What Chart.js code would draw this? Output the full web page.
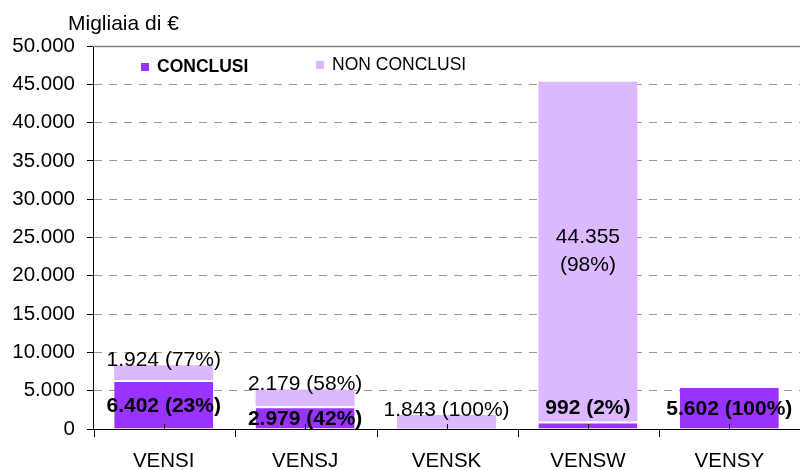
<!DOCTYPE html>
<html>
<head>
<meta charset="utf-8">
<script src="https://cdn.jsdelivr.net/npm/chart.js@4/dist/chart.umd.min.js"></script>
<style>
  html, body { margin: 0; padding: 0; background: #fff; }
  #wrap { width: 800px; height: 470px; }
</style>
</head>
<body>
<div id="wrap"><canvas id="chart" width="800" height="470"></canvas></div>
<script>
// data
const categories = ['VENSI', 'VENSJ', 'VENSK', 'VENSW', 'VENSY'];
const conclusi = [6402, 2979, 0, 992, 5602];
const nonConclusi = [1924, 2179, 1843, 44355, 0];
const conclusiPct = [23, 42, null, 2, 100];
const nonConclusiPct = [77, 58, 100, 98, null];
const yTicks = [0, 5000, 10000, 15000, 20000, 25000, 30000, 35000, 40000, 45000, 50000];

const FONT = '"Liberation Sans", Arial, sans-serif';
const DARK = '#9933ff';
const LIGHT = '#dbb8ff';

function fmt(v) {
    return v.toString().replace(/\B(?=(\d{3})+(?!\d))/g, '.');
}

// extra drawing: title, legend, top border, x-axis tick marks, value labels
const extras = {
    id: 'extras',
    afterDraw: function(chart) {
        const ctx = chart.ctx;
        const area = chart.chartArea;
        const xs = chart.scales.x;

        ctx.save();
        // solid line on top of the plot
        ctx.strokeStyle = '#808080';
        ctx.lineWidth = 1.5;
        ctx.beginPath();
        ctx.moveTo(area.left, area.top + 0.5);
        ctx.lineTo(area.right, area.top + 0.5);
        ctx.stroke();

        // x ticks: boundaries go down, centers go up
        ctx.strokeStyle = '#000';
        ctx.lineWidth = 1;
        const half = (xs.right - xs.left) / categories.length / 2;
        ctx.beginPath();
        categories.forEach(function(c, i) {
            const cx = Math.round(xs.getPixelForTick(i)) + 0.5;
            const bx = Math.round(cx - half) + 0.5;
            ctx.moveTo(bx, area.bottom);
            ctx.lineTo(bx, area.bottom + 8);
            ctx.moveTo(cx, area.bottom);
            ctx.lineTo(cx, area.bottom - 5);
        });
        ctx.stroke();

        // title
        ctx.fillStyle = '#000';
        ctx.font = '21px ' + FONT;
        ctx.textAlign = 'left';
        ctx.textBaseline = 'middle';
        ctx.fillText('Migliaia di €', 68, 24);

        // legend
        const ds = chart.data.datasets;
        ctx.fillStyle = DARK;
        ctx.fillRect(141, 63, 8, 8);
        ctx.fillStyle = '#000';
        ctx.font = 'bold 17.5px ' + FONT;
        ctx.fillText(ds[0].label, 157, 67);
        ctx.fillStyle = LIGHT;
        ctx.fillRect(316, 61, 8, 8);
        ctx.fillStyle = '#000';
        ctx.font = '17.5px ' + FONT;
        ctx.fillText(ds[1].label, 332, 65);

        // value labels
        ctx.textAlign = 'center';
        ctx.textBaseline = 'middle';
        const m0 = chart.getDatasetMeta(0);
        ctx.font = 'bold 21px ' + FONT;
        m0.data.forEach(function(bar, i) {
            const v = conclusi[i];
            if (!v) return;
            const h = bar.base - bar.y;
            const y = h < 15 ? bar.y - 13 : (bar.y + bar.base) / 2 + 2;
            ctx.fillText(fmt(v) + ' (' + conclusiPct[i] + '%)', bar.x, y);
        });
        const m1 = chart.getDatasetMeta(1);
        ctx.font = '21px ' + FONT;
        m1.data.forEach(function(bar, i) {
            const v = nonConclusi[i];
            if (!v) return;
            const h = bar.base - bar.y;
            if (h > 60) {
                const mid = (bar.y + bar.base) / 2;
                ctx.fillText(fmt(v), bar.x, mid - 14);
                ctx.fillText('(' + nonConclusiPct[i] + '%)', bar.x, mid + 14);
            } else {
                ctx.fillText(fmt(v) + ' (' + nonConclusiPct[i] + '%)', bar.x, bar.y - 5);
            }
        });
        ctx.restore();
    }
};

new Chart(document.getElementById('chart'), {
    type: 'bar',
    data: {
        labels: categories,
        datasets: [{
            label: 'CONCLUSI',
            data: conclusi,
            backgroundColor: DARK,
            borderColor: '#fff',
            borderWidth: { top: 2, left: 0, right: 0, bottom: 0 },
            borderSkipped: false,
            barPercentage: 0.7,
            categoryPercentage: 1
        }, {
            label: 'NON CONCLUSI',
            data: nonConclusi,
            backgroundColor: LIGHT,
            borderWidth: 0,
            barPercentage: 0.7,
            categoryPercentage: 1
        }]
    },
    options: {
        responsive: false,
        animation: false,
        layout: { padding: { top: 46, right: 0, left: 0, bottom: 0 } },
        plugins: {
            legend: { display: false },
            tooltip: { enabled: false },
            title: { display: false }
        },
        scales: {
            x: {
                stacked: true,
                grid: { display: false, drawTicks: false },
                border: { display: true, color: '#000', width: 1 },
                ticks: {
                    color: '#000',
                    font: { family: FONT, size: 20.5 },
                    padding: 20,
                    maxRotation: 0,
                    autoSkip: false
                },
                afterFit: function(s) { s.height = 41; }
            },
            y: {
                stacked: true,
                min: 0,
                max: 50000,
                afterBuildTicks: function(s) { s.ticks = yTicks.map(function(v) { return { value: v }; }); },
                grid: {
                    color: '#999',
                    lineWidth: 1,
                    drawTicks: true,
                    tickLength: 6,
                    tickColor: '#000'
                },
                border: { display: true, color: '#000', width: 1, dash: [8, 7] },
                ticks: {
                    color: '#000',
                    font: { family: FONT, size: 20.5 },
                    padding: 12,
                    callback: function(v) { return fmt(v); }
                },
                afterFit: function(s) { s.width = 93; }
            }
        }
    },
    plugins: [extras]
});
</script>
</body>
</html>
